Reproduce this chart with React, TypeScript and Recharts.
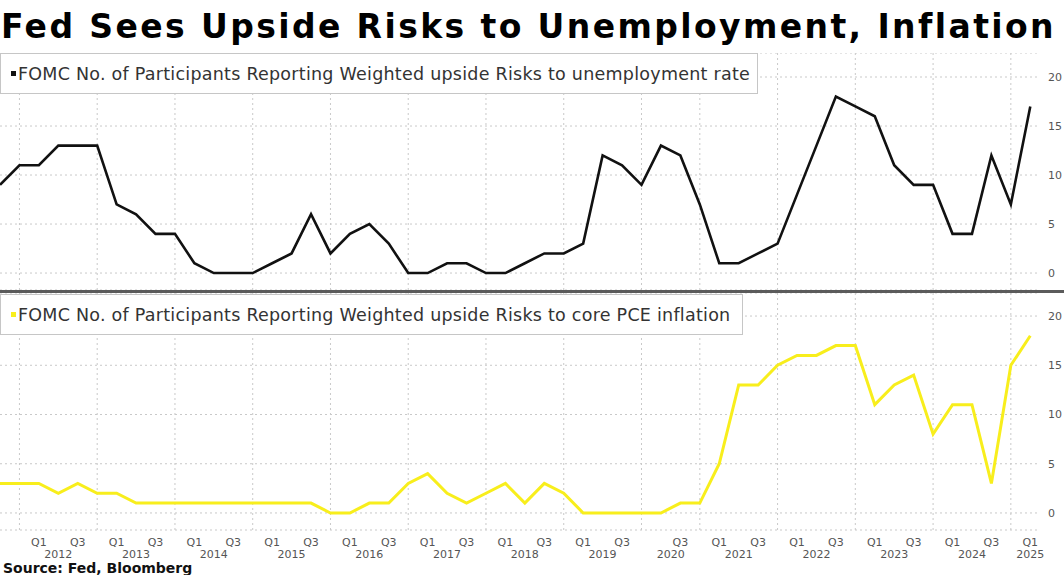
import React from 'react';
import { LineChart, Line, XAxis, YAxis, CartesianGrid, ReferenceLine } from 'recharts';

// FOMC meetings with a Summary of Economic Projections (no March 2020 SEP)
const MEETINGS = [
  '2011-09', '2011-12',
  '2012-03', '2012-06', '2012-09', '2012-12',
  '2013-03', '2013-06', '2013-09', '2013-12',
  '2014-03', '2014-06', '2014-09', '2014-12',
  '2015-03', '2015-06', '2015-09', '2015-12',
  '2016-03', '2016-06', '2016-09', '2016-12',
  '2017-03', '2017-06', '2017-09', '2017-12',
  '2018-03', '2018-06', '2018-09', '2018-12',
  '2019-03', '2019-06', '2019-09', '2019-12',
  '2020-06', '2020-09', '2020-12',
  '2021-03', '2021-06', '2021-09', '2021-12',
  '2022-03', '2022-06', '2022-09', '2022-12',
  '2023-03', '2023-06', '2023-09', '2023-12',
  '2024-03', '2024-06', '2024-09', '2024-12',
  '2025-03',
];

const UNEMPLOYMENT_RISK = [
  9, 11,
  11, 13, 13, 13,
  7, 6, 4, 4,
  1, 0, 0, 0,
  1, 2, 6, 2,
  4, 5, 3, 0,
  0, 1, 1, 0,
  0, 1, 2, 2,
  3, 12, 11, 9,
  13, 12, 7,
  1, 1, 2, 3,
  8, 13, 18, 17,
  16, 11, 9, 9,
  4, 4, 12, 7,
  17,
];

const INFLATION_RISK = [
  3, 3,
  3, 2, 3, 2,
  2, 1, 1, 1,
  1, 1, 1, 1,
  1, 1, 1, 0,
  0, 1, 1, 3,
  4, 2, 1, 2,
  3, 1, 3, 2,
  0, 0, 0, 0,
  0, 1, 1,
  5, 13, 13, 15,
  16, 16, 17, 17,
  11, 13, 14, 8,
  11, 11, 3, 15,
  18,
];

const Y_TICKS = [0, 5, 10, 15, 20];
const FIRST_LABELLED_YEAR = 2012;

const TOP_LABEL = 'FOMC No. of Participants Reporting Weighted upside Risks to unemployment rate';
const BOTTOM_LABEL = 'FOMC No. of Participants Reporting Weighted upside Risks to core PCE inflation';

const data = MEETINGS.map((m, i) => ({
  idx: i,
  meeting: m,
  unemployment: UNEMPLOYMENT_RISK[i],
  inflation: INFLATION_RISK[i],
}));

// year-end meetings carry the vertical grid lines
const yearEnds = data.filter((d) => d.meeting.endsWith('-12')).map((d) => d.idx);

// Q1 / Q3 labels sit on the March and September meetings
const quarterTicks = data
  .filter((d) => Number(d.meeting.slice(0, 4)) >= FIRST_LABELLED_YEAR)
  .filter((d) => d.meeting.endsWith('-03') || d.meeting.endsWith('-09'));
const quarterLabel: Record<number, string> = {};
quarterTicks.forEach((d) => {
  quarterLabel[d.idx] = d.meeting.endsWith('-03') ? 'Q1' : 'Q3';
});

const years = Array.from(new Set(quarterTicks.map((d) => d.meeting.slice(0, 4))));
const yearTicks = years.map((y) => {
  const first = data.find((d) => d.meeting.startsWith(y))!.idx;
  const lastLabel = quarterTicks.filter((d) => d.meeting.startsWith(y)).pop()!.idx;
  return (first + lastLabel) / 2;
});
const yearLabel: Record<number, string> = {};
yearTicks.forEach((t, i) => {
  yearLabel[t] = years[i];
});

const X_DOMAIN: [number, number] = [0, 53.5];
const FONT = '"DejaVu Sans", Verdana, sans-serif';
const GRID = '#c9c9c9';
const TICK_STYLE = { fill: '#555', fontSize: 11, fontFamily: FONT };

const LegendBox = ({ top, width, color, text }: { top: number; width: number; color: string; text: string }) => (
  <div
    style={{
      position: 'absolute',
      left: 0,
      top,
      width,
      height: 41,
      boxSizing: 'border-box',
      border: '1.5px solid #c6c6c6',
      background: '#fff',
      display: 'flex',
      alignItems: 'center',
      fontFamily: FONT,
      fontSize: 17.5,
      letterSpacing: 0.25,
      color: '#333',
      whiteSpace: 'nowrap',
    }}
  >
    <span style={{ display: 'inline-block', width: 5, height: 5, background: color, marginLeft: 10, marginRight: 2 }} />
    {text}
  </div>
);

const App: React.FC = () => {
  return (
    <div
      style={{
        position: 'absolute',
        left: 0,
        top: 0,
        width: 1064,
        height: 575,
        background: '#fff',
        overflow: 'hidden',
      }}
    >
      <div
        style={{
          position: 'absolute',
          left: 1,
          top: 7,
          fontFamily: FONT,
          fontWeight: 'bold',
          fontSize: 33,
          letterSpacing: 2.4,
          lineHeight: '40px',
          color: '#000',
          whiteSpace: 'nowrap',
        }}
      >
        Fed Sees Upside Risks to Unemployment, Inflation
      </div>

      <div style={{ position: 'absolute', left: 0, top: 53 }}>
        <LineChart width={1064} height={237} data={data} margin={{ top: 0, right: 0, bottom: 0, left: 0 }}>
          <CartesianGrid vertical={false} stroke={GRID} strokeDasharray="2 3" />
          {yearEnds.map((x) => (
            <ReferenceLine key={x} x={x} stroke={GRID} strokeDasharray="2 3" />
          ))}
          <XAxis dataKey="idx" type="number" domain={X_DOMAIN} allowDataOverflow hide />
          <YAxis
            orientation="right"
            width={24}
            domain={[-1.73, 22.45]}
            allowDataOverflow
            ticks={Y_TICKS}
            axisLine={false}
            tickLine={false}
            tick={TICK_STYLE}
          />
          <Line
            dataKey="unemployment"
            type="linear"
            stroke="#111"
            strokeWidth={2.6}
            dot={false}
            isAnimationActive={false}
          />
        </LineChart>
      </div>

      <div style={{ position: 'absolute', left: 0, top: 290, width: 1064, height: 3, background: '#5b5b5b' }} />

      <div style={{ position: 'absolute', left: 0, top: 293 }}>
        <LineChart width={1064} height={279} data={data} margin={{ top: 0, right: 0, bottom: 0, left: 0 }}>
          <CartesianGrid vertical={false} stroke={GRID} strokeDasharray="2 3" />
          {yearEnds.map((x) => (
            <ReferenceLine key={x} x={x} stroke={GRID} strokeDasharray="2 3" />
          ))}
          <XAxis
            dataKey="idx"
            type="number"
            domain={X_DOMAIN}
            allowDataOverflow
            ticks={quarterTicks.map((d) => d.idx)}
            tickFormatter={(v) => quarterLabel[v] ?? ''}
            interval={0}
            height={12}
            axisLine={false}
            tickLine={false}
            tick={TICK_STYLE}
          />
          <XAxis
            xAxisId="year"
            dataKey="idx"
            type="number"
            domain={X_DOMAIN}
            allowDataOverflow
            ticks={yearTicks}
            tickFormatter={(v) => yearLabel[v] ?? ''}
            interval={0}
            height={30}
            axisLine={false}
            tickLine={false}
            tick={TICK_STYLE}
          />
          <YAxis
            orientation="right"
            width={24}
            domain={[-1.73, 22.34]}
            allowDataOverflow
            ticks={Y_TICKS}
            axisLine={false}
            tickLine={false}
            tick={TICK_STYLE}
          />
          <Line
            dataKey="inflation"
            type="linear"
            stroke="#f8ee1c"
            strokeWidth={3}
            dot={false}
            isAnimationActive={false}
          />
        </LineChart>
      </div>

      <LegendBox top={53} width={758} color="#111" text={TOP_LABEL} />
      <LegendBox top={294} width={743} color="#f8ee1c" text={BOTTOM_LABEL} />

      <div
        style={{
          position: 'absolute',
          left: 3,
          top: 559,
          fontFamily: FONT,
          fontWeight: 'bold',
          fontSize: 14,
          lineHeight: '18px',
          color: '#111',
          whiteSpace: 'nowrap',
        }}
      >
        Source: Fed, Bloomberg
      </div>
    </div>
  );
};

export default App;
